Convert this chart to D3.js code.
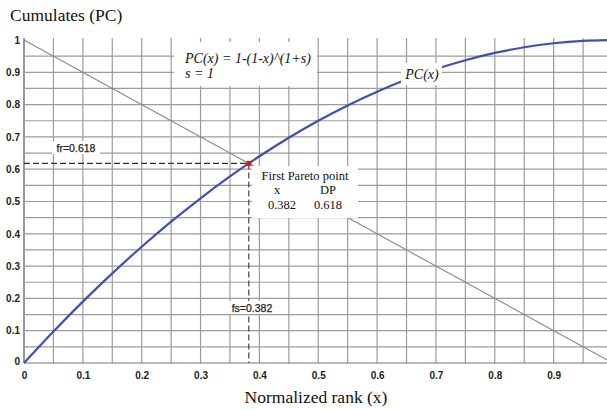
<!DOCTYPE html>
<html>
<head>
<meta charset="utf-8">
<script src="https://cdn.jsdelivr.net/npm/d3@7"></script>
<style>
  html, body { margin: 0; padding: 0; background: #fff; }
  svg { display: block; }
</style>
</head>
<body>
<script>
// Cumulative share PC(x) = 1-(1-x)^(1+s), s = 1, sampled along normalized rank
const rankX = [0, 0.05, 0.1, 0.15, 0.2, 0.25, 0.3, 0.35, 0.4, 0.45, 0.5, 0.55, 0.6, 0.65, 0.7, 0.75, 0.8, 0.85, 0.9, 0.95, 1];
const cumulPC = [0, 0.0975, 0.19, 0.2775, 0.36, 0.4375, 0.51, 0.5775, 0.64, 0.6975, 0.75, 0.7975, 0.84, 0.8775, 0.91, 0.9375, 0.96, 0.9775, 0.99, 0.9975, 1];
// Diagonal reference line 1 - x
const diagX = [0, 1];
const diagY = [1, 0];
// First Pareto point
const paretoX = [0.382];
const paretoDP = [0.618];
const xTicks = [0, 0.1, 0.2, 0.3, 0.4, 0.5, 0.6, 0.7, 0.8, 0.9];
const yTicks = [0, 0.1, 0.2, 0.3, 0.4, 0.5, 0.6, 0.7, 0.8, 0.9, 1];
const gridStep = [0, 0.05, 0.1, 0.15, 0.2, 0.25, 0.3, 0.35, 0.4, 0.45, 0.5, 0.55, 0.6, 0.65, 0.7, 0.75, 0.8, 0.85, 0.9, 0.95, 1];

const W = 607, H = 410;
const svg = d3.select("body").append("svg").attr("width", W).attr("height", H);

const x = d3.scaleLinear().domain([0, 1]).range([24, 612.5]);
const y = d3.scaleLinear().domain([0, 1]).range([363, 40]);

svg.append("defs").append("clipPath").attr("id", "plot")
  .append("rect").attr("x", 0).attr("y", 30).attr("width", W).attr("height", 340);

const plot = svg.append("g").attr("clip-path", "url(#plot)");

// grid
plot.append("g").selectAll("line.v").data(gridStep).join("line")
  .attr("x1", d => x(d)).attr("x2", d => x(d))
  .attr("y1", y(1) - 2).attr("y2", y(0))
  .attr("stroke", d => d === 0 ? "#555" : "#9c9c9c").attr("stroke-width", 1.2);
plot.append("g").selectAll("line.h").data(gridStep.filter(d => d < 1)).join("line")
  .attr("x1", x(0)).attr("x2", W)
  .attr("y1", d => y(d)).attr("y2", d => y(d))
  .attr("stroke", d => d === 0 ? "#777" : "#9c9c9c").attr("stroke-width", 1.2);

// diagonal 1 - x
plot.append("line")
  .attr("x1", x(diagX[0])).attr("y1", y(diagY[0]))
  .attr("x2", x(diagX[1])).attr("y2", y(diagY[1]))
  .attr("stroke", "#888").attr("stroke-width", 1.1);

// dashed guides to the Pareto point
const px = paretoX[0], py = paretoDP[0];
plot.append("line").attr("x1", x(0)).attr("x2", x(px)).attr("y1", y(py)).attr("y2", y(py))
  .attr("stroke", "#333").attr("stroke-width", 1.1).attr("stroke-dasharray", "6,3");
plot.append("line").attr("x1", x(px)).attr("x2", x(px)).attr("y1", y(py)).attr("y2", y(0))
  .attr("stroke", "#333").attr("stroke-width", 1.1).attr("stroke-dasharray", "6,3");

// PC(x) curve
const line = d3.line().x((d, i) => x(rankX[i])).y(d => y(d)).curve(d3.curveCatmullRom);
plot.append("path").datum(cumulPC).attr("d", line)
  .attr("fill", "none").attr("stroke", "#3f4fb6").attr("stroke-width", 2.2);

// Pareto point marker
plot.append("rect").attr("x", x(px) - 2.5).attr("y", y(py) - 2.5).attr("width", 5).attr("height", 5)
  .attr("fill", "#e8141b");

// white label boxes
function box(x0, y0, w, h) {
  svg.append("rect").attr("x", x0).attr("y", y0).attr("width", w).attr("height", h).attr("fill", "#fff");
}
const serif = "'Liberation Serif', 'Times New Roman', serif";
const sans = "'Liberation Sans', Arial, sans-serif";

// formula box
box(174, 42, 143, 44);
svg.append("text").attr("x", 185).attr("y", 63).attr("font-family", serif).attr("font-style", "italic")
  .attr("font-size", 14).attr("fill", "#111").text("PC(x) = 1-(1-x)^(1+s)");
svg.append("text").attr("x", 185).attr("y", 78).attr("font-family", serif).attr("font-style", "italic")
  .attr("font-size", 14).attr("fill", "#111").text("s = 1");

// curve label
box(401, 63, 41, 22);
svg.append("text").attr("x", 422).attr("y", 79).attr("text-anchor", "middle").attr("font-family", serif)
  .attr("font-style", "italic").attr("font-size", 14).attr("fill", "#111").text("PC(x)");

// fr / fs labels
box(52, 141, 48, 13);
svg.append("text").attr("x", 76).attr("y", 152).attr("text-anchor", "middle").attr("font-family", sans)
  .attr("font-size", 10.5).attr("fill", "#222").attr("stroke", "#222").attr("stroke-width", 0.25)
  .text("fr=" + py.toFixed(3));
box(227, 301, 51, 13);
svg.append("text").attr("x", 252).attr("y", 312).attr("text-anchor", "middle").attr("font-family", sans)
  .attr("font-size", 10.5).attr("fill", "#222").attr("stroke", "#222").attr("stroke-width", 0.25)
  .text("fs=" + px.toFixed(3));

// Pareto point box
box(252, 166, 106, 52);
svg.append("text").attr("x", 305).attr("y", 180).attr("text-anchor", "middle").attr("font-family", serif)
  .attr("font-size", 12.5).attr("fill", "#111").text("First Pareto point");
svg.append("text").attr("x", 277).attr("y", 194).attr("text-anchor", "middle").attr("font-family", serif)
  .attr("font-size", 12.5).attr("fill", "#111").text("x");
svg.append("text").attr("x", 328).attr("y", 194).attr("text-anchor", "middle").attr("font-family", serif)
  .attr("font-size", 12.5).attr("fill", "#111").text("DP");
svg.append("text").attr("x", 282).attr("y", 209).attr("text-anchor", "middle").attr("font-family", serif)
  .attr("font-size", 12.5).attr("fill", "#111").text(px.toFixed(3));
svg.append("text").attr("x", 328).attr("y", 209).attr("text-anchor", "middle").attr("font-family", serif)
  .attr("font-size", 12.5).attr("fill", "#111").text(py.toFixed(3));

// axes
const fmt = d => d === 0 ? "0" : d === 1 ? "1" : d3.format(".1f")(d);
const xAxis = svg.append("g").attr("transform", `translate(0,${y(0)})`)
  .call(d3.axisBottom(x).tickValues(xTicks).tickFormat(fmt).tickSize(0).tickPadding(9));
const yAxis = svg.append("g").attr("transform", `translate(${x(0)},0)`)
  .call(d3.axisLeft(y).tickValues(yTicks).tickFormat(fmt).tickSize(0).tickPadding(4));
[xAxis, yAxis].forEach(g => {
  g.select(".domain").remove();
  g.selectAll("text").attr("font-family", sans).attr("font-weight", "bold")
    .attr("font-size", 10).attr("fill", "#222");
});
yAxis.selectAll(".tick").filter(d => d === 0).select("text").attr("dy", "0.1em");

// axis titles
svg.append("text").attr("x", 10).attr("y", 21).attr("font-family", serif).attr("font-size", 17.5)
  .attr("fill", "#111").text("Cumulates (PC)");
svg.append("text").attr("x", 316).attr("y", 403).attr("text-anchor", "middle").attr("font-family", serif)
  .attr("font-size", 17.5).attr("fill", "#111").text("Normalized rank (x)");
</script>
</body>
</html>
